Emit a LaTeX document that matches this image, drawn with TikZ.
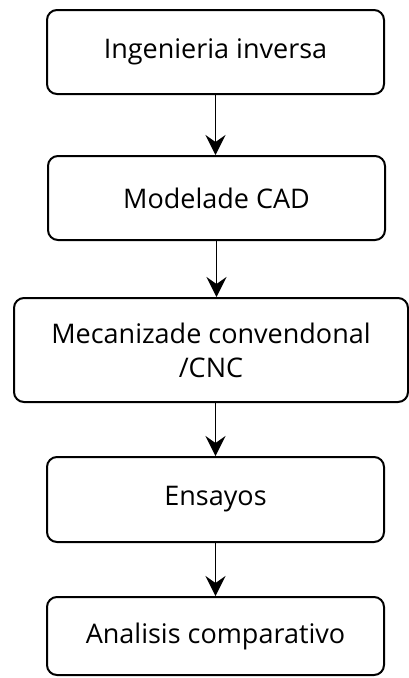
\documentclass[tikz,border=0pt]{standalone}
\usepackage{fontspec}
\setmainfont{Open Sans}
\usetikzlibrary{arrows.meta}
\begin{document}
\begin{tikzpicture}[x=1pt,y=-1pt,
  box/.style={draw, line width=2pt, rounded corners=10pt, inner sep=0pt,
    minimum width=337pt, align=center, font=\fontsize{27}{34}\selectfont},
  flow/.style={line width=1.6pt, -{Stealth[length=20pt,width=20pt,inset=7pt]}}]
\useasboundingbox (0,0) rectangle (409,678);
\node[box, minimum height=84pt] (a) at (215.5,52) {Ingenieria inversa};
\node[box, minimum height=84pt] (b) at (216.5,198) {Modelade CAD};
\node[box, minimum height=104pt, minimum width=394pt] (c) at (211,350) {Mecanizade convendonal\\/CNC};
\node[box, minimum height=85pt] (d) at (215.5,499.5) {Ensayos};
\node[box, minimum height=78pt] (e) at (215.5,636) {Analisis comparativo};
\draw[flow] (a.south) -- (a.south |- b.north);
\draw[flow] (b.south) -- (b.south |- c.north);
\draw[flow] (c.south -| d.north) -- (d.north);
\draw[flow] (d.south) -- (e.north);
\end{tikzpicture}
\end{document}
